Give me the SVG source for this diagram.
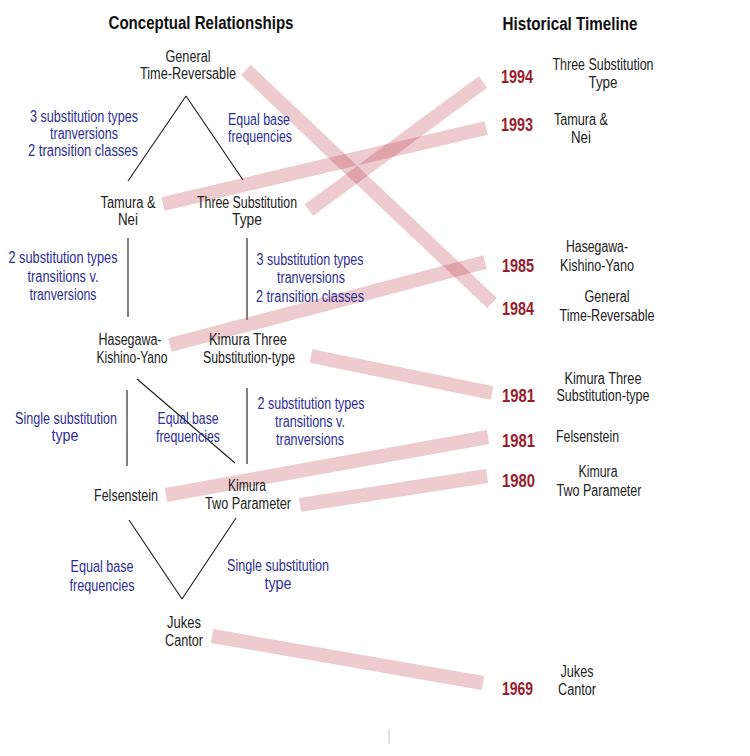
<svg xmlns="http://www.w3.org/2000/svg" width="750" height="756" viewBox="0 0 750 756">
<defs>
<filter id="soft" x="-5%" y="-5%" width="110%" height="110%"><feGaussianBlur stdDeviation="0.7"/></filter>
</defs>
<style>
text{font-family:"Liberation Sans Narrow","Liberation Sans",Arial,sans-serif;font-size:16px;fill:#222;text-anchor:middle}
.title{font-weight:bold;font-size:18px;fill:#111}
.lbl{fill:#2e2e96}
.yr{font-weight:bold;font-size:19px;fill:#981c2c;text-anchor:start}
.st{text-anchor:start}
.edge{stroke:#1a1a1a;stroke-width:1.1;fill:none}
.band{stroke:#c04050;stroke-opacity:0.28;stroke-width:14;stroke-linecap:butt;fill:none}
</style>
<rect width="750" height="756" fill="#ffffff"/>
<text class="title" x="201" y="29" textLength="185" lengthAdjust="spacingAndGlyphs">Conceptual Relationships</text>
<text class="title" x="570" y="30" textLength="135" lengthAdjust="spacingAndGlyphs">Historical Timeline</text>

<g id="connectors">
<line class="edge" x1="186" y1="96" x2="128" y2="181"/>
<line class="edge" x1="186" y1="96" x2="243" y2="180"/>
<line class="edge" x1="128" y1="238" x2="128" y2="317"/>
<line class="edge" x1="247" y1="238" x2="247" y2="320"/>
<line class="edge" x1="127" y1="390" x2="127" y2="466"/>
<line class="edge" x1="247" y1="388" x2="247" y2="464"/>
<line class="edge" x1="137" y1="379" x2="235" y2="463"/>
<line class="edge" x1="129" y1="520" x2="182" y2="599"/>
<line class="edge" x1="236" y1="518" x2="182" y2="599"/>
<g id="bands" filter="url(#soft)">
<line class="band" x1="246" y1="70" x2="492" y2="303"/>
<line class="band" x1="163" y1="204" x2="486" y2="128"/>
<line class="band" x1="309" y1="210" x2="483" y2="82"/>
<line class="band" x1="170" y1="345" x2="485" y2="262"/>
<line class="band" x1="311" y1="356" x2="492" y2="393"/>
<line class="band" x1="166" y1="495" x2="488" y2="437"/>
<line class="band" x1="300" y1="505" x2="487" y2="476"/>
<line class="band" x1="212" y1="636" x2="483" y2="683"/>
</g>
<g id="edge-labels">
<text class="lbl" x="84" y="122" textLength="108" lengthAdjust="spacingAndGlyphs">3 substitution types</text>
<text class="lbl" x="84" y="139" textLength="68" lengthAdjust="spacingAndGlyphs">tranversions</text>
<text class="lbl" x="83" y="156" textLength="110" lengthAdjust="spacingAndGlyphs">2 transition classes</text>
<text class="lbl" x="259" y="125" textLength="62" lengthAdjust="spacingAndGlyphs">Equal base</text>
<text class="lbl" x="260" y="142" textLength="64" lengthAdjust="spacingAndGlyphs">frequencies</text>
<text class="lbl" x="63" y="263" textLength="109" lengthAdjust="spacingAndGlyphs">2 substitution types</text>
<text class="lbl" x="63" y="282" textLength="71" lengthAdjust="spacingAndGlyphs">transitions v.</text>
<text class="lbl" x="63" y="300" textLength="67" lengthAdjust="spacingAndGlyphs">tranversions</text>
<text class="lbl" x="310" y="265" textLength="107" lengthAdjust="spacingAndGlyphs">3 substitution types</text>
<text class="lbl" x="311" y="283" textLength="68" lengthAdjust="spacingAndGlyphs">tranversions</text>
<text class="lbl" x="310" y="302" textLength="108" lengthAdjust="spacingAndGlyphs">2 transition classes</text>
<text class="lbl" x="66" y="424" textLength="102" lengthAdjust="spacingAndGlyphs">Single substitution</text>
<text class="lbl" x="65" y="441" textLength="27" lengthAdjust="spacingAndGlyphs">type</text>
<text class="lbl" x="188" y="424" textLength="61" lengthAdjust="spacingAndGlyphs">Equal base</text>
<text class="lbl" x="188" y="442" textLength="64" lengthAdjust="spacingAndGlyphs">frequencies</text>
<text class="lbl" x="311" y="409" textLength="107" lengthAdjust="spacingAndGlyphs">2 substitution types</text>
<text class="lbl" x="310" y="427" textLength="70" lengthAdjust="spacingAndGlyphs">transitions v.</text>
<text class="lbl" x="310" y="445" textLength="68" lengthAdjust="spacingAndGlyphs">tranversions</text>
<text class="lbl" x="102" y="572" textLength="63" lengthAdjust="spacingAndGlyphs">Equal base</text>
<text class="lbl" x="102" y="591" textLength="65" lengthAdjust="spacingAndGlyphs">frequencies</text>
<text class="lbl" x="278" y="571" textLength="102" lengthAdjust="spacingAndGlyphs">Single substitution</text>
<text class="lbl" x="278" y="589" textLength="27" lengthAdjust="spacingAndGlyphs">type</text>
</g>
</g>

<g id="node-gtr">
<text x="188" y="62" textLength="45" lengthAdjust="spacingAndGlyphs">General</text>
<text x="188" y="79" textLength="96" lengthAdjust="spacingAndGlyphs">Time-Reversable</text>
</g>
<g id="node-tn">
<text x="128" y="208" textLength="55" lengthAdjust="spacingAndGlyphs">Tamura &amp;</text>
<text x="128" y="225" textLength="20" lengthAdjust="spacingAndGlyphs">Nei</text>
</g>
<g id="node-tst">
<text x="247" y="208" textLength="100" lengthAdjust="spacingAndGlyphs">Three Substitution</text>
<text x="247" y="225" textLength="30" lengthAdjust="spacingAndGlyphs">Type</text>
</g>
<g id="node-hky">
<text x="130" y="345" textLength="63" lengthAdjust="spacingAndGlyphs">Hasegawa-</text>
<text x="132" y="363" textLength="71" lengthAdjust="spacingAndGlyphs">Kishino-Yano</text>
</g>
<g id="node-k3st">
<text x="248" y="345" textLength="78" lengthAdjust="spacingAndGlyphs">Kimura Three</text>
<text x="249" y="363" textLength="92" lengthAdjust="spacingAndGlyphs">Substitution-type</text>
</g>
<g id="node-fels">
<text x="126" y="501" textLength="64" lengthAdjust="spacingAndGlyphs">Felsenstein</text>
</g>
<g id="node-k2p">
<text x="247" y="491" textLength="38" lengthAdjust="spacingAndGlyphs">Kimura</text>
<text x="248" y="509" textLength="86" lengthAdjust="spacingAndGlyphs">Two Parameter</text>
</g>
<g id="node-jc">
<text x="184" y="628" textLength="34" lengthAdjust="spacingAndGlyphs">Jukes</text>
<text x="184" y="646" textLength="38" lengthAdjust="spacingAndGlyphs">Cantor</text>
</g>

<g id="t-1994">
<text class="yr" x="501" y="83" textLength="32" lengthAdjust="spacingAndGlyphs">1994</text>
<text x="603" y="70" textLength="101" lengthAdjust="spacingAndGlyphs">Three Substitution</text>
<text x="603" y="88" textLength="29" lengthAdjust="spacingAndGlyphs">Type</text>
</g>
<g id="t-1993">
<text class="yr" x="501" y="131" textLength="32" lengthAdjust="spacingAndGlyphs">1993</text>
<text x="581" y="125" textLength="54" lengthAdjust="spacingAndGlyphs">Tamura &amp;</text>
<text x="581" y="143" textLength="20" lengthAdjust="spacingAndGlyphs">Nei</text>
</g>
<g id="t-1985">
<text class="yr" x="502" y="272" textLength="32" lengthAdjust="spacingAndGlyphs">1985</text>
<text x="597" y="252" textLength="62" lengthAdjust="spacingAndGlyphs">Hasegawa-</text>
<text x="597" y="271" textLength="74" lengthAdjust="spacingAndGlyphs">Kishino-Yano</text>
</g>
<g id="t-1984">
<text class="yr" x="502" y="315" textLength="32" lengthAdjust="spacingAndGlyphs">1984</text>
<text x="607" y="302" textLength="45" lengthAdjust="spacingAndGlyphs">General</text>
<text x="607" y="321" textLength="95" lengthAdjust="spacingAndGlyphs">Time-Reversable</text>
</g>
<g id="t-1981a">
<text class="yr" x="502" y="402" textLength="33" lengthAdjust="spacingAndGlyphs">1981</text>
<text x="603" y="384" textLength="77" lengthAdjust="spacingAndGlyphs">Kimura Three</text>
<text x="603" y="401" textLength="93" lengthAdjust="spacingAndGlyphs">Substitution-type</text>
</g>
<g id="t-1981b">
<text class="yr" x="502" y="447" textLength="33" lengthAdjust="spacingAndGlyphs">1981</text>
<text class="st" x="556" y="442" textLength="63" lengthAdjust="spacingAndGlyphs">Felsenstein</text>
</g>
<g id="t-1980">
<text class="yr" x="502" y="487" textLength="33" lengthAdjust="spacingAndGlyphs">1980</text>
<text x="598" y="477" textLength="39" lengthAdjust="spacingAndGlyphs">Kimura</text>
<text x="599" y="496" textLength="85" lengthAdjust="spacingAndGlyphs">Two Parameter</text>
</g>
<g id="t-1969">
<text class="yr" x="502" y="695" textLength="31" lengthAdjust="spacingAndGlyphs">1969</text>
<text x="577" y="677" textLength="33" lengthAdjust="spacingAndGlyphs">Jukes</text>
<text x="577" y="695" textLength="38" lengthAdjust="spacingAndGlyphs">Cantor</text>
</g>
<line x1="389" y1="729" x2="389" y2="744" stroke="#e2ddf3" stroke-width="2"/>
</svg>
